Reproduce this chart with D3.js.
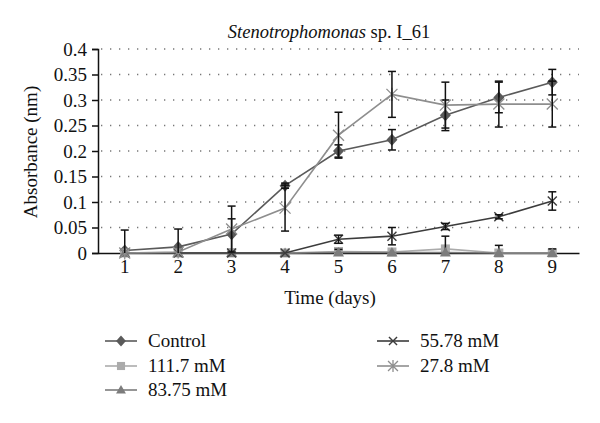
<!DOCTYPE html>
<html><head><meta charset="utf-8">
<script src="https://cdn.jsdelivr.net/npm/d3@7"></script>
<style>body{margin:0;background:#fff}svg{display:block}text{font-family:"Liberation Serif","Times New Roman",serif;fill:#111}</style>
</head><body><svg width="600" height="423"></svg>
<script>
const days = [1,2,3,4,5,6,7,8,9];
const yTicks = [0,0.05,0.1,0.15,0.2,0.25,0.3,0.35,0.4];
const seriesNames = ["Control","111.7 mM","83.75 mM","55.78 mM","27.8 mM"];
const control    = [0.005,0.012,0.037,0.132,0.200,0.222,0.270,0.305,0.335];
const controlErr = [0,0,0.030,0.005,0.012,0.020,0.030,0.030,0.025];
const m111       = [0,0,0,0,0.003,0.002,0.008,0,0];
const m111Err    = [0,0,0,0,0.004,0,0.025,0.015,0.008];
const m83        = [0,0,0,0,0.001,0.001,0.001,0,0];
const m83Err     = [0,0,0,0,0,0,0,0,0];
const m55        = [0,0,0,0,0.027,0.033,0.052,0.071,0.102];
const m55Err     = [0,0,0,0,0.008,0.017,0.006,0.004,0.018];
const m27        = [0,0.002,0.047,0.088,0.231,0.311,0.290,0.292,0.292];
const m27Err     = [0.045,0.045,0.045,0.045,0.045,0.045,0.045,0.045,0.045];

const styles = [
  {color:"#5a5a5a", shape:"diamond"},
  {color:"#ababab", shape:"square"},
  {color:"#7c7c7c", shape:"triangle"},
  {color:"#3c3c3c", shape:"x"},
  {color:"#8e8e8e", shape:"star"}
];
const values = [control,m111,m83,m55,m27];
const errs = [controlErr,m111Err,m83Err,m55Err,m27Err];

const svg = d3.select("svg");
const L=98, R=579, T=49, B=253;
const FS = 19;
const x = d3.scaleBand().domain(days).range([L,R]);
const y = d3.scaleLinear().domain([0,0.4]).range([B,T]);
const cx = d => x(d)+x.bandwidth()/2;

// grid
svg.append("g").selectAll("line").data(yTicks.filter(v=>v>0)).join("line")
  .attr("x1",L+3).attr("x2",R).attr("y1",d=>y(d)).attr("y2",d=>y(d))
  .attr("stroke","#777").attr("stroke-width",1.3).attr("stroke-dasharray","1.3,7.7");

// y axis
const ya = svg.append("g").attr("transform",`translate(${L},0)`)
  .call(d3.axisLeft(y).tickValues(yTicks).tickSize(6).tickPadding(5).tickFormat(d=>d3.format("")(+d.toFixed(2))));
ya.select(".domain").attr("stroke","#111").attr("stroke-width",1.5);
ya.selectAll(".tick line").attr("stroke","#111").attr("stroke-width",1.5);
ya.selectAll("text").attr("font-size",FS).style("font-family","'Liberation Serif',serif").attr("fill","#111");

// x axis
const xa = svg.append("g").attr("transform",`translate(0,${B})`)
  .call(d3.axisBottom(x).tickSize(0).tickPadding(7));
xa.select(".domain").attr("stroke","#111").attr("stroke-width",1.5);
xa.selectAll("text").attr("font-size",FS).style("font-family","'Liberation Serif',serif").attr("fill","#111");

function marker(g, shape, color, px, py, s){
  s = s||1;
  if(shape==="diamond"){
    g.append("path").attr("d",`M${px},${py-6*s}L${px+5.5*s},${py}L${px},${py+6*s}L${px-5.5*s},${py}Z`).attr("fill",color);
  } else if(shape==="square"){
    g.append("rect").attr("x",px-4.5*s).attr("y",py-4.5*s).attr("width",9*s).attr("height",9*s).attr("fill",color);
  } else if(shape==="triangle"){
    g.append("path").attr("d",`M${px},${py-5.5*s}L${px+5.5*s},${py+4*s}L${px-5.5*s},${py+4*s}Z`).attr("fill",color);
  } else if(shape==="x"){
    const r=4.5*s;
    g.append("path").attr("d",`M${px-r},${py-r}L${px+r},${py+r}M${px-r},${py+r}L${px+r},${py-r}`).attr("stroke",color).attr("stroke-width",1.4);
  } else if(shape==="star"){
    const r=5.5*s;
    g.append("path").attr("d",`M${px-r},${py-r}L${px+r},${py+r}M${px-r},${py+r}L${px+r},${py-r}M${px},${py-r*1.2}L${px},${py+r*1.2}`).attr("stroke",color).attr("stroke-width",1.3);
  }
}

const line = d3.line().x((d,i)=>cx(days[i])).y(d=>y(d));
values.forEach((vals,si)=>{
  const st = styles[si];
  const g = svg.append("g");
  g.append("path").datum(vals).attr("d",line).attr("fill","none").attr("stroke",st.color).attr("stroke-width",1.6);
  vals.forEach((v,i)=>marker(g,st.shape,st.color,cx(days[i]),y(v)));
  const eg = svg.append("g");
  vals.forEach((v,i)=>{
    const e = errs[si][i];
    if(!e) return;
    const px = cx(days[i]);
    const hi = y(v+e), lo = y(Math.max(0,v-e));
    eg.append("line").attr("x1",px).attr("x2",px).attr("y1",hi).attr("y2",lo).attr("stroke","#111").attr("stroke-width",1.5);
    eg.append("line").attr("x1",px-4).attr("x2",px+4).attr("y1",hi).attr("y2",hi).attr("stroke","#111").attr("stroke-width",1.5);
    if(v-e>0) eg.append("line").attr("x1",px-4).attr("x2",px+4).attr("y1",lo).attr("y2",lo).attr("stroke","#111").attr("stroke-width",1.5);
  });
});

// title
const title = svg.append("text").attr("x",329).attr("y",38).attr("text-anchor","middle").attr("font-size",FS-0.5);
title.append("tspan").attr("font-style","italic").text("Stenotrophomonas");
title.append("tspan").text(" sp. I_61");

svg.append("text").attr("x",330).attr("y",304).attr("text-anchor","middle").attr("font-size",FS).text("Time (days)");
svg.append("text").attr("transform","translate(37,152) rotate(-90)").attr("text-anchor","middle").attr("font-size",FS).text("Absorbance (nm)");

// legend
const legPos = [[105,341],[105,366],[105,390],[377,341],[377,366]];
seriesNames.forEach((n,i)=>{
  const [lx,ly] = legPos[i];
  const g = svg.append("g");
  g.append("line").attr("x1",lx).attr("x2",lx+32).attr("y1",ly).attr("y2",ly).attr("stroke",styles[i].color).attr("stroke-width",1.6);
  marker(g,styles[i].shape,styles[i].color,lx+16,ly,0.9);
  g.append("text").attr("x",lx+43).attr("y",ly+6).attr("font-size",FS).text(n);
});
</script></body></html>
